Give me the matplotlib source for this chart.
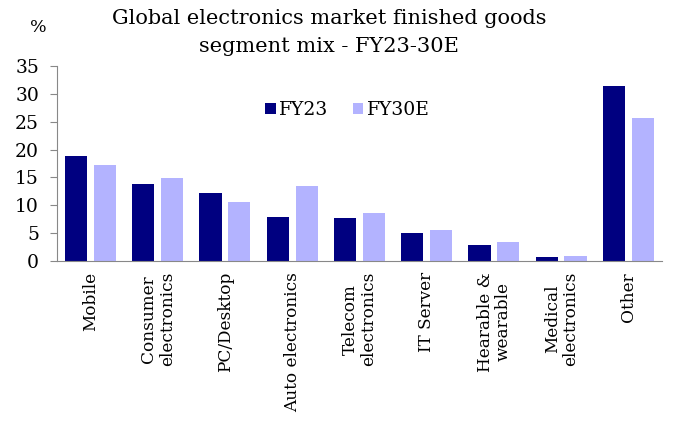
import matplotlib.pyplot as plt
import numpy as np

plt.rcParams['font.family'] = ['DejaVu Serif']

# Datos del mix de segmentos (%)
segmentos = ["Mobile", "Consumer\nelectronics", "PC/Desktop", "Auto electronics",
             "Telecom\nelectronics", "IT Server", "Hearable &\nwearable",
             "Medical\nelectronics", "Other"]
fy23 = [18.8, 13.8, 12.1, 7.9, 7.7, 5.0, 2.8, 0.6, 31.5]
fy30e = [17.2, 14.9, 10.5, 13.5, 8.6, 5.6, 3.4, 0.8, 25.7]

fig = plt.figure(figsize=(6.8, 4.29), dpi=100)
ax = fig.add_axes([0.084, 0.392, 0.89, 0.454])

x = np.arange(len(segmentos))
ax.bar(x - 0.22, fy23, width=0.33, color="#000080", label="FY23")
ax.bar(x + 0.21, fy30e, width=0.33, color="#b3b3ff", label="FY30E")

ax.set_xlim(-0.5, len(segmentos) - 0.5)
ax.set_ylim(0, 35)
ax.set_yticks(range(0, 36, 5))
ax.set_xticks(x)
ax.set_xticklabels(segmentos, rotation=90, fontsize=12.2, linespacing=1.1)
ax.tick_params(axis='x', length=0, pad=8)
ax.tick_params(axis='y', labelsize=13.5, color="#888888", length=5, pad=8)

for lado in ["top", "right"]:
    ax.spines[lado].set_visible(False)
ax.spines["left"].set_color("#888888")
ax.spines["bottom"].set_color("#888888")

ax.legend(loc="upper center", bbox_to_anchor=(0.48, 0.905), ncol=2, frameon=False,
          fontsize=13.5, handlelength=0.55, handleheight=0.55, handletextpad=0.2,
          columnspacing=1.3)

fig.text(0.484, 0.978, "Global electronics market finished goods\nsegment mix - FY23-30E",
         ha="center", va="top", fontsize=15, linespacing=1.55)
fig.text(0.057, 0.935, "%", ha="center", va="center", fontsize=12.5)

plt.savefig("out.png", dpi=100)
